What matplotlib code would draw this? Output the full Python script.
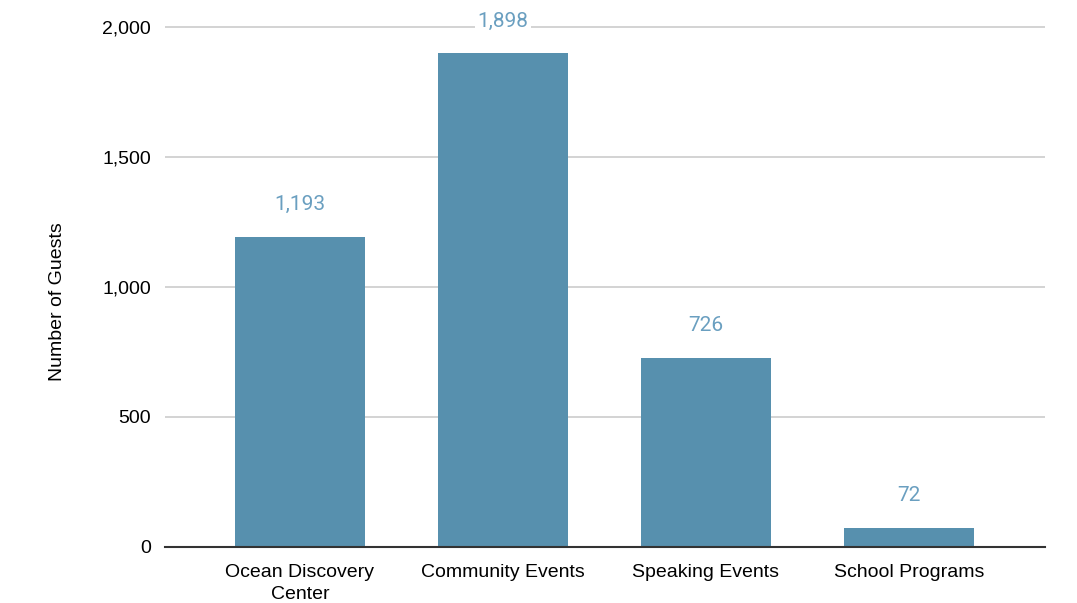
import matplotlib.pyplot as plt
from matplotlib.ticker import FuncFormatter

categories = ['Ocean Discovery\nCenter', 'Community Events', 'Speaking Events', 'School Programs']
guests = [1193, 1898, 726, 72]
y_ticks = [0, 500, 1000, 1500, 2000]

bar_color = '#5790ae'
label_color = '#6a9fc0'

fig = plt.figure(figsize=(10.77, 6.03), dpi=100)
ax = fig.add_axes([0.1532, 0.0929, 0.8171, 0.9055])

x = range(len(categories))
bars = ax.bar(x, guests, width=0.64, color=bar_color, zorder=3)

for b, v in zip(bars, guests):
    ax.annotate(f'{v:,}', (b.get_x() + b.get_width() / 2, v),
                xytext=(0, 23), textcoords='offset pixels',
                ha='center', va='bottom', fontsize=15, color=label_color,
                family=['Roboto', 'DejaVu Sans'], zorder=4,
                bbox=dict(boxstyle='square,pad=0.1', fc='white', ec='none'))

ax.set_xlim(-0.665, 3.67)
ax.set_ylim(0, 2100)
ax.set_yticks(y_ticks)
ax.yaxis.set_major_formatter(FuncFormatter(lambda v, p: f'{int(v):,}'))
ax.set_xticks(list(x))
ax.set_xticklabels(categories, linespacing=1.45)
ax.grid(axis='y', color='#cccccc', linewidth=1.2, zorder=0)

for s in ['top', 'right', 'left']:
    ax.spines[s].set_visible(False)
ax.spines['bottom'].set_color('#333333')
ax.spines['bottom'].set_linewidth(1.5)
ax.spines['bottom'].set_zorder(5)

ax.tick_params(axis='both', length=0, labelsize=14, colors='#000000')
ax.tick_params(axis='x', pad=12)
ax.tick_params(axis='y', pad=10)
for t in ax.get_xticklabels() + ax.get_yticklabels():
    t.set_family(['Liberation Sans', 'DejaVu Sans'])

ax.set_ylabel('Number of Guests', fontsize=14, family=['Liberation Sans', 'DejaVu Sans'])
ax.yaxis.set_label_coords(-0.113, 0.45)

fig.savefig('out.png', dpi=100)
